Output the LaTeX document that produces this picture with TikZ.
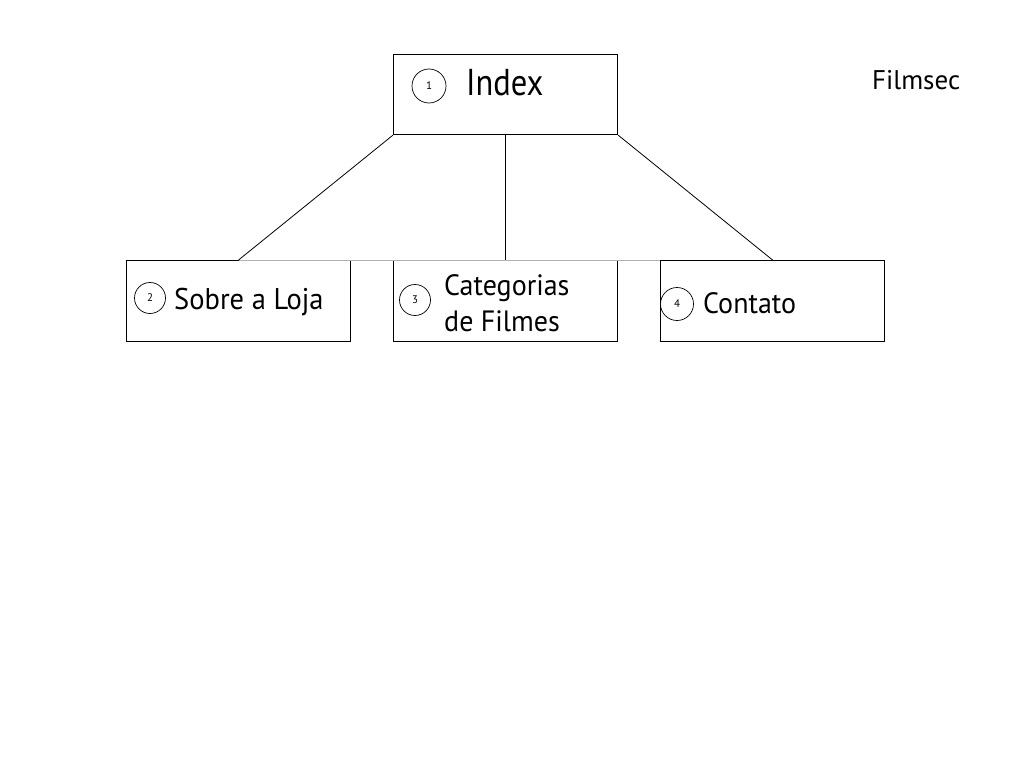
\documentclass[tikz,border=0pt]{standalone}
\usepackage{fontspec}
\usepackage{graphicx}
\setmainfont{PT Sans}
\begin{document}
\begin{tikzpicture}[x=1pt,y=-1pt,
  page/.style={draw, line width=1.1pt, rectangle, minimum width=224pt, minimum height=80pt, inner sep=0pt, anchor=north west},
  numc/.style={draw, circle, line width=0.7pt, minimum size=32pt, inner sep=0pt, font=\fontsize{11}{12}\selectfont},
  lbl/.style={inner sep=0pt, anchor=base west},
  conn/.style={line width=0.8pt}]
\useasboundingbox[fill=white] (0,0) rectangle (1024,768);
\node[page] (index) at (393,54) {};
\node[page, minimum height=81pt] (sobre) at (126,260) {};
\node[page, minimum height=81pt] (cat) at (393,260) {};
\node[page, minimum height=81pt] (contato) at (660,260) {};
% connectors
\draw[conn] (index.south west) -- (sobre.north);
\draw[conn] (index.south) -- (cat.north);
\draw[conn] (index.south east) -- (contato.north);
\draw[line width=0.6pt, gray!60] (sobre.north) -- (contato.north west);
% circles
\node[numc, minimum size=34pt] (n1) at (429,86) {1};
\node[numc, minimum size=31pt] (n2) at (150,298) {2};
\node[numc, minimum size=31pt] (n3) at (415,300) {3};
\node[numc, minimum size=33pt] (n4) at (677,304) {4};
% labels
\node[lbl, font=\fontsize{32.5}{36}\selectfont] (t1) at (466,95) {\scalebox{1}[1.15]{Index}};
\node[lbl, font=\fontsize{28.5}{32}\selectfont] (t2) at (174,309) {\scalebox{1}[1.05]{Sobre a Loja}};
\node[lbl, font=\fontsize{28}{32}\selectfont] (t3a) at (444,295) {\scalebox{1}[1.05]{Categorias}};
\node[lbl, font=\fontsize{28}{32}\selectfont] (t3b) at (444,331) {\scalebox{1}[1.05]{de Filmes}};
\node[lbl, font=\fontsize{28}{32}\selectfont] (t4) at (703,313) {\scalebox{1}[1.05]{Contato}};
\node[lbl, font=\fontsize{27}{30}\selectfont] (fs) at (872,89) {Filmsec};
\end{tikzpicture}
\end{document}
